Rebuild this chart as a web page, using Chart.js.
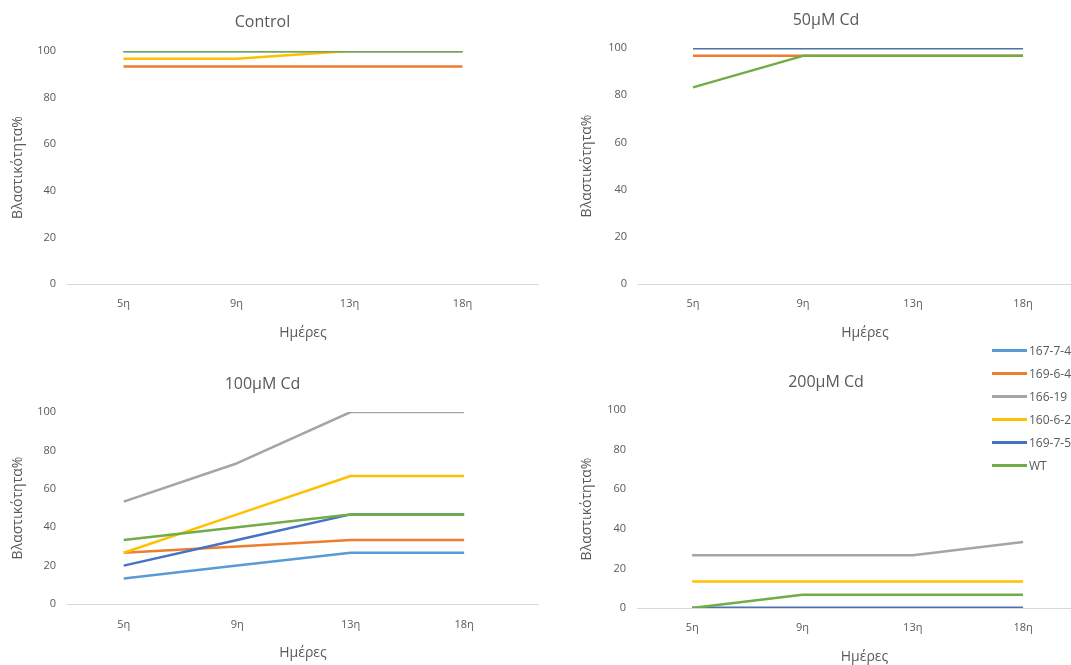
<!DOCTYPE html>
<html>
<head>
<meta charset="utf-8">
<script src="https://cdn.jsdelivr.net/npm/chart.js@4.4.1/dist/chart.umd.min.js"></script>
<style>
  html, body { margin: 0; padding: 0; background: #fff; overflow: hidden; width: 1071px; height: 665px; }
  canvas { position: absolute; }
  #legend { position: absolute; left: 992px; top: 0; font: 12px 'Open Sans', sans-serif; color: #595959; white-space: nowrap; }
  #legend .item { position: absolute; left: 0; height: 14px; display: flex; align-items: center; }
  #legend .swatch { width: 35px; height: 3px; margin-right: 2px; }
</style>
</head>
<body>
<canvas id="pControl" width="553" height="345" style="left:-14px;top:0px"></canvas>
<canvas id="p50" width="532" height="345" style="left:560px;top:0px"></canvas>
<canvas id="p100" width="553" height="310" style="left:-14px;top:355px"></canvas>
<canvas id="p200" width="532" height="312" style="left:560px;top:355px"></canvas>
<div id="legend"></div>
<script>
// Sampling days (x axis) and plant lines (series)
const days = ['5η', '9η', '13η', '18η'];
const lines = ['167-7-4', '169-6-4', '166-19', '160-6-2', '169-7-5', 'WT'];
const lineColors = ['#5B9BD5', '#ED7D31', '#A5A5A5', '#FFC000', '#4472C4', '#70AD47'];

// Germination % per line (rows follow `lines`), one table per treatment
const controlValues = [
  [100, 100, 100, 100],
  [93.33, 93.33, 93.33, 93.33],
  [100, 100, 100, 100],
  [96.67, 96.67, 100, 100],
  [100, 100, 100, 100],
  [100, 100, 100, 100]
];
const cd50Values = [
  [100, 100, 100, 100],
  [96.67, 96.67, 96.67, 96.67],
  [100, 100, 100, 100],
  [100, 100, 100, 100],
  [100, 100, 100, 100],
  [83.33, 96.67, 96.67, 96.67]
];
const cd100Values = [
  [13.33, 20, 26.67, 26.67],
  [26.67, 30, 33.33, 33.33],
  [53.33, 73.33, 100, 100],
  [26.67, 46.67, 66.67, 66.67],
  [20, 33.33, 46.67, 46.67],
  [33.33, 40, 46.67, 46.67]
];
const cd200Values = [
  [0, 0, 0, 0],
  [0, 0, 0, 0],
  [26.67, 26.67, 26.67, 33.33],
  [13.33, 13.33, 13.33, 13.33],
  [0, 0, 0, 0],
  [0, 6.67, 6.67, 6.67]
];
const yTicks = { min: 0, max: 100, step: 20 };

const FONT = "'Open Sans', sans-serif";
const TEXT = '#595959';

function panel(id, title, rows, box) {
  new Chart(document.getElementById(id), {
    type: 'line',
    data: {
      datasets: lines.map((name, i) => ({
        label: name,
        data: rows[i].map((v, j) => ({ x: j, y: v })),
        borderColor: lineColors[i],
        backgroundColor: lineColors[i],
        borderWidth: 2.5,
        pointRadius: 0,
        tension: 0,
        clip: 0,
        borderJoinStyle: 'round',
        // later series are painted over earlier ones
        order: lines.length - 1 - i
      }))
    },
    options: {
      responsive: false,
      animation: false,
      events: [],
      layout: { padding: 0 },
      plugins: {
        legend: { display: false },
        tooltip: { enabled: false },
        title: {
          display: true, text: title, color: TEXT,
          font: { family: FONT, size: 16, weight: 'normal' },
          padding: { top: box.tTop, bottom: box.tBot }
        }
      },
      scales: {
        x: {
          type: 'linear', min: -0.5, max: box.xMax,
          grid: { display: false, drawTicks: false },
          border: { display: true, color: '#d9d9d9', width: 1 },
          afterBuildTicks: s => { s.ticks = days.map((d, j) => ({ value: j })); },
          ticks: {
            callback: v => days[v], color: TEXT, autoSkip: false, maxRotation: 0,
            font: { family: FONT, size: 11 }, padding: box.xPad
          },
          title: {
            display: true, text: 'Ημέρες', color: TEXT,
            font: { family: FONT, size: 14 }, padding: { top: 0, bottom: box.xtBot }
          },
          afterFit: s => { s.height = box.xH; }
        },
        y: {
          min: yTicks.min, max: yTicks.max,
          grid: { display: false, drawTicks: false },
          border: { display: false },
          ticks: { stepSize: yTicks.step, color: TEXT, font: { family: FONT, size: 11 }, padding: 11 },
          title: {
            display: true, text: 'Βλαστικότητα%', color: TEXT,
            font: { family: FONT, size: 14 }, padding: { top: box.ytTop, bottom: 0 }
          },
          afterFit: s => { s.width = box.yW; }
        }
      }
    }
  });
}

panel('pControl', 'Control', controlValues,
  { tTop: 12.4, tBot: 19.4, xH: 61, xPad: 13.5, xtBot: 3.6, xMax: 3.677, yW: 81, ytTop: 23.6 });
panel('p50', '50μM Cd', cd50Values,
  { tTop: 10.4, tBot: 18.4, xH: 61, xPad: 13.5, xtBot: 3.6, xMax: 3.627, yW: 78, ytTop: 18.6 });
panel('p100', '100μM Cd', cd100Values,
  { tTop: 19.4, tBot: 18.4, xH: 61, xPad: 14, xtBot: 3.6, xMax: 3.66, yW: 81, ytTop: 23.6 });
panel('p200', '200μM Cd', cd200Values,
  { tTop: 18.1, tBot: 17.7, xH: 59, xPad: 13.5, xtBot: 1.6, xMax: 3.625, yW: 77, ytTop: 18.6 });

// Shared legend for the plant lines
const legend = document.getElementById('legend');
lines.forEach((name, i) => {
  const item = document.createElement('div');
  item.className = 'item';
  item.style.top = (343 + i * 23) + 'px';
  const sw = document.createElement('span');
  sw.className = 'swatch';
  sw.style.background = lineColors[i];
  const tx = document.createElement('span');
  tx.textContent = name;
  item.appendChild(sw);
  item.appendChild(tx);
  legend.appendChild(item);
});
</script>
</body>
</html>
